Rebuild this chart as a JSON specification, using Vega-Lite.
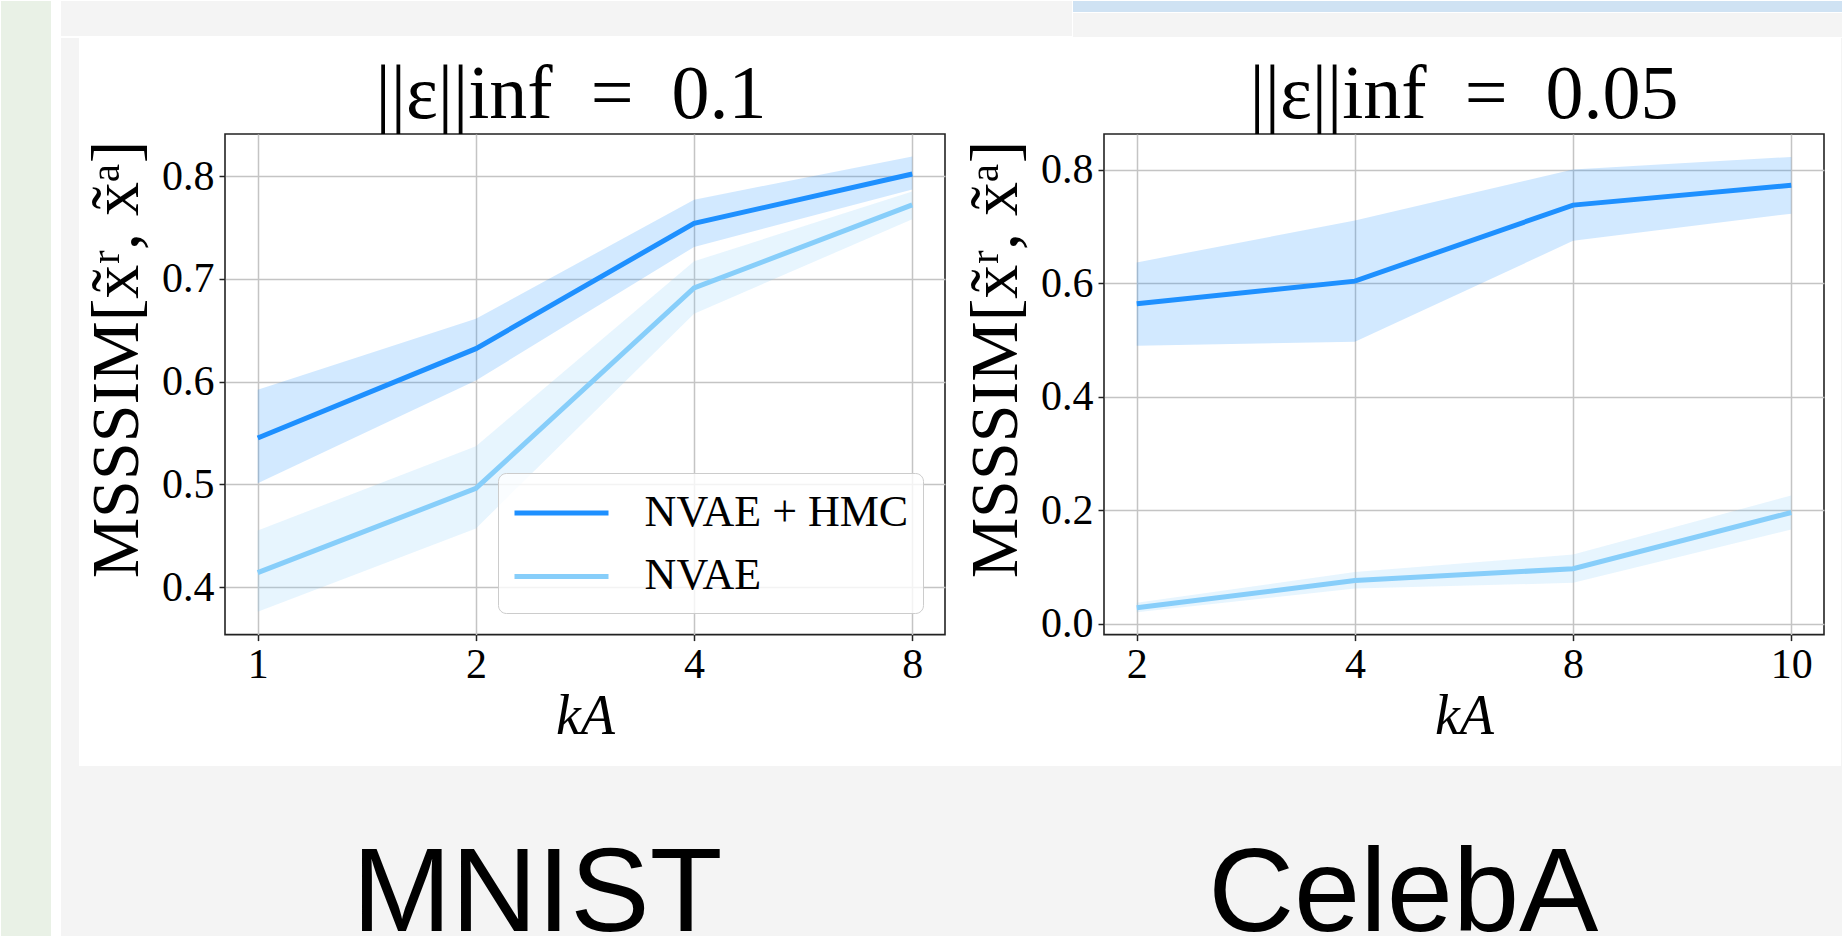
{
  "$schema": "https://vega.github.io/schema/vega-lite/v6.json",
  "background": "white",
  "padding": 0,
  "datasets": {
    "mnist": [
      {"k": "1", "method": "NVAE + HMC", "mean": 0.545, "lo": 0.501, "hi": 0.592},
      {"k": "2", "method": "NVAE + HMC", "mean": 0.632, "lo": 0.601, "hi": 0.661},
      {"k": "4", "method": "NVAE + HMC", "mean": 0.754, "lo": 0.731, "hi": 0.777},
      {"k": "8", "method": "NVAE + HMC", "mean": 0.802, "lo": 0.787, "hi": 0.819},
      {"k": "1", "method": "NVAE", "mean": 0.414, "lo": 0.376, "hi": 0.455},
      {"k": "2", "method": "NVAE", "mean": 0.496, "lo": 0.457, "hi": 0.537},
      {"k": "4", "method": "NVAE", "mean": 0.691, "lo": 0.666, "hi": 0.717},
      {"k": "8", "method": "NVAE", "mean": 0.772, "lo": 0.758, "hi": 0.785}
    ],
    "celeba": [
      {"k": "2", "method": "NVAE + HMC", "mean": 0.564, "lo": 0.490, "hi": 0.637},
      {"k": "4", "method": "NVAE + HMC", "mean": 0.604, "lo": 0.497, "hi": 0.711},
      {"k": "8", "method": "NVAE + HMC", "mean": 0.738, "lo": 0.675, "hi": 0.801},
      {"k": "10", "method": "NVAE + HMC", "mean": 0.773, "lo": 0.723, "hi": 0.823},
      {"k": "2", "method": "NVAE", "mean": 0.028, "lo": 0.020, "hi": 0.037},
      {"k": "4", "method": "NVAE", "mean": 0.076, "lo": 0.062, "hi": 0.091},
      {"k": "8", "method": "NVAE", "mean": 0.097, "lo": 0.072, "hi": 0.122},
      {"k": "10", "method": "NVAE", "mean": 0.196, "lo": 0.166, "hi": 0.226}
    ],
    "labels": [{"dataset": "MNIST"}, {"dataset": "CelebA"}],
    "blank": [{}]
  },
  "spacing": 0,
  "hconcat": [
    {"width": 50, "height": 936, "data": {"name": "blank"}, "mark": {"type": "rule", "opacity": 0}, "encoding": {}, "view": {"fill": "#e9f1e6"}},
    {"width": 8, "height": 936, "data": {"name": "blank"}, "mark": {"type": "rule", "opacity": 0}, "encoding": {}},
    {
      "spacing": 0,
      "vconcat": [
        {
          "spacing": 0,
          "hconcat": [
            {"width": 1011, "height": 35, "data": {"name": "blank"}, "mark": {"type": "rule", "opacity": 0}, "encoding": {}, "view": {"fill": "#f4f4f4"}},
            {
              "spacing": 0,
              "vconcat": [
                {"width": 771, "height": 11, "data": {"name": "blank"}, "mark": {"type": "rule", "opacity": 0}, "encoding": {}, "view": {"fill": "#cfe2f3"}},
                {"width": 771, "height": 24, "data": {"name": "blank"}, "mark": {"type": "rule", "opacity": 0}, "encoding": {}, "view": {"fill": "#f4f4f4"}}
              ]
            }
          ]
        },
        {
          "spacing": 0,
          "hconcat": [
            {"width": 18, "height": 728, "data": {"name": "blank"}, "mark": {"type": "rule", "opacity": 0}, "encoding": {}, "view": {"fill": "#f4f4f4"}},
            {
              "spacing": 0,
              "vconcat": [
                {"width": 1760, "height": 17.7, "data": {"name": "blank"}, "mark": {"type": "rule", "opacity": 0}, "encoding": {}},
                {
                  "spacing": 0,
                  "resolve": {
                    "scale": {"x": "independent", "y": "independent", "color": "independent", "fill": "independent"},
                    "axis": {"x": "independent", "y": "independent"},
                    "legend": {"color": "independent", "fill": "independent"}
                  },
                  "hconcat": [
                    {"width": 1.3, "height": 10, "data": {"name": "blank"}, "mark": {"type": "rule", "opacity": 0}, "encoding": {}},
                    {
                      "width": 720,
                      "height": 500.6,
                      "view": {"stroke": "#222222", "strokeWidth": 1.6},
                      "title": {"text": "||ε||inf\u2002=\u20020.1", "font": "Liberation Serif", "fontSize": 76, "fontWeight": "normal", "color": "#000000", "offset": 0, "baseline": "top", "anchor": "middle", "frame": "group", "dx": -14},
                      "data": {"name": "mnist"},
                      "encoding": {
                        "x": {"field": "k", "type": "ordinal", "scale": {"type": "point", "padding": 0.15, "domain": ["1", "2", "4", "8"]}, "axis": {"title": "kA", "labelAngle": 0, "titleFontStyle": "italic", "titleFontSize": 56, "labelPadding": 4, "titlePadding": 4}}
                      },
                      "layer": [
                        {
                          "mark": {"type": "area", "fillOpacity": 0.2},
                          "encoding": {
                            "y": {"field": "lo", "type": "quantitative", "scale": {"domain": [0.3537, 0.8409], "nice": false, "zero": false}, "axis": {"title": "MSSSIM[x̃ʳ, x̃ᵃ]", "values": [0.4, 0.5, 0.6, 0.7, 0.8], "format": ".1f", "titleFontSize": 68, "titlePadding": 10, "labelPadding": 5, "titleY": 225}},
                            "y2": {"field": "hi"},
                            "fill": {"field": "method", "type": "nominal", "scale": {"domain": ["NVAE", "NVAE + HMC"], "range": ["#87cefa", "#1e90ff"]}, "legend": null}
                          }
                        },
                        {
                          "mark": {"type": "line", "strokeWidth": 5},
                          "encoding": {
                            "y": {"field": "mean", "type": "quantitative", "scale": {"domain": [0.3537, 0.8409], "nice": false, "zero": false}, "axis": {"title": "MSSSIM[x̃ʳ, x̃ᵃ]", "values": [0.4, 0.5, 0.6, 0.7, 0.8], "format": ".1f", "titleFontSize": 68, "titlePadding": 10, "labelPadding": 5, "titleY": 225}},
                            "color": {
                              "field": "method", "type": "nominal",
                              "scale": {"domain": ["NVAE + HMC", "NVAE"], "range": ["#1e90ff", "#87cefa"]},
                              "legend": {"orient": "bottom-right", "offset": 22, "title": null, "symbolType": "M-1,0H3", "symbolSize": 2209, "symbolStrokeWidth": 5, "labelFont": "Liberation Serif", "labelFontSize": 44, "labelColor": "#000000", "labelOffset": 80.6, "rowPadding": 15.4, "padding": 14, "fillColor": "rgba(255,255,255,0.8)", "strokeColor": "#cccccc", "cornerRadius": 8, "labelLimit": 500}
                            }
                          }
                        }
                      ]
                    },
                    {"width": 14, "height": 10, "data": {"name": "blank"}, "mark": {"type": "rule", "opacity": 0}, "encoding": {}},
                    {
                      "width": 720,
                      "height": 500.6,
                      "view": {"stroke": "#222222", "strokeWidth": 1.6},
                      "title": {"text": "||ε||inf\u2002=\u20020.05", "font": "Liberation Serif", "fontSize": 76, "fontWeight": "normal", "color": "#000000", "offset": 0, "baseline": "top", "anchor": "middle", "frame": "group"},
                      "data": {"name": "celeba"},
                      "encoding": {
                        "x": {"field": "k", "type": "ordinal", "scale": {"type": "point", "padding": 0.15, "domain": ["2", "4", "8", "10"]}, "axis": {"title": "kA", "labelAngle": 0, "titleFontStyle": "italic", "titleFontSize": 56, "labelPadding": 4, "titlePadding": 4}}
                      },
                      "layer": [
                        {
                          "mark": {"type": "area", "fillOpacity": 0.2},
                          "encoding": {
                            "y": {"field": "lo", "type": "quantitative", "scale": {"domain": [-0.0192, 0.8634], "nice": false, "zero": false}, "axis": {"title": "MSSSIM[x̃ʳ, x̃ᵃ]", "values": [0, 0.2, 0.4, 0.6, 0.8], "format": ".1f", "titleFontSize": 68, "titlePadding": 10, "labelPadding": 5, "titleY": 225}},
                            "y2": {"field": "hi"},
                            "fill": {"field": "method", "type": "nominal", "scale": {"domain": ["NVAE", "NVAE + HMC"], "range": ["#87cefa", "#1e90ff"]}, "legend": null}
                          }
                        },
                        {
                          "mark": {"type": "line", "strokeWidth": 5},
                          "encoding": {
                            "y": {"field": "mean", "type": "quantitative", "scale": {"domain": [-0.0192, 0.8634], "nice": false, "zero": false}, "axis": {"title": "MSSSIM[x̃ʳ, x̃ᵃ]", "values": [0, 0.2, 0.4, 0.6, 0.8], "format": ".1f", "titleFontSize": 68, "titlePadding": 10, "labelPadding": 5, "titleY": 225}},
                            "color": {"field": "method", "type": "nominal", "scale": {"domain": ["NVAE + HMC", "NVAE"], "range": ["#1e90ff", "#87cefa"]}, "legend": null}
                          }
                        }
                      ]
                    }
                  ]
                }
              ]
            },
            {"width": 4, "height": 728, "data": {"name": "blank"}, "mark": {"type": "rule", "opacity": 0}, "encoding": {}, "view": {"fill": "#f4f4f4"}}
          ]
        },
        {
          "width": 1782,
          "height": 173,
          "view": {"fill": "#f4f4f4"},
          "data": {"name": "labels"},
          "mark": {"type": "text", "font": "Liberation Sans", "fontSize": 119, "baseline": "alphabetic", "dy": 78, "color": "#000000", "clip": true},
          "encoding": {
            "x": {"field": "dataset", "type": "nominal", "scale": {"type": "point", "domain": ["MNIST", "CelebA"], "padding": 0.5289, "align": 0.52}, "axis": null},
            "text": {"field": "dataset"}
          }
        }
      ]
    },
    {
      "spacing": 0,
      "vconcat": [
        {"width": 2, "height": 11, "data": {"name": "blank"}, "mark": {"type": "rule", "opacity": 0}, "encoding": {}, "view": {"fill": "#cfe2f3"}},
        {"width": 2, "height": 52, "data": {"name": "blank"}, "mark": {"type": "rule", "opacity": 0}, "encoding": {}, "view": {"fill": "#f4f4f4"}},
        {"width": 2, "height": 807, "data": {"name": "blank"}, "mark": {"type": "rule", "opacity": 0}, "encoding": {}, "view": {"fill": "#555555"}},
        {"width": 2, "height": 66, "data": {"name": "blank"}, "mark": {"type": "rule", "opacity": 0}, "encoding": {}, "view": {"fill": "#f4f4f4"}}
      ]
    }
  ],
  "config": {
    "view": {"stroke": null},
    "axis": {
      "domain": false,
      "grid": true,
      "gridColor": "#c4c4c4",
      "gridWidth": 1.5,
      "tickColor": "#222222",
      "tickSize": 6,
      "tickWidth": 1.5,
      "labelFont": "Liberation Serif",
      "labelFontSize": 42,
      "labelColor": "#000000",
      "titleFont": "Liberation Serif",
      "titleColor": "#000000",
      "titleFontWeight": "normal"
    }
  }
}
